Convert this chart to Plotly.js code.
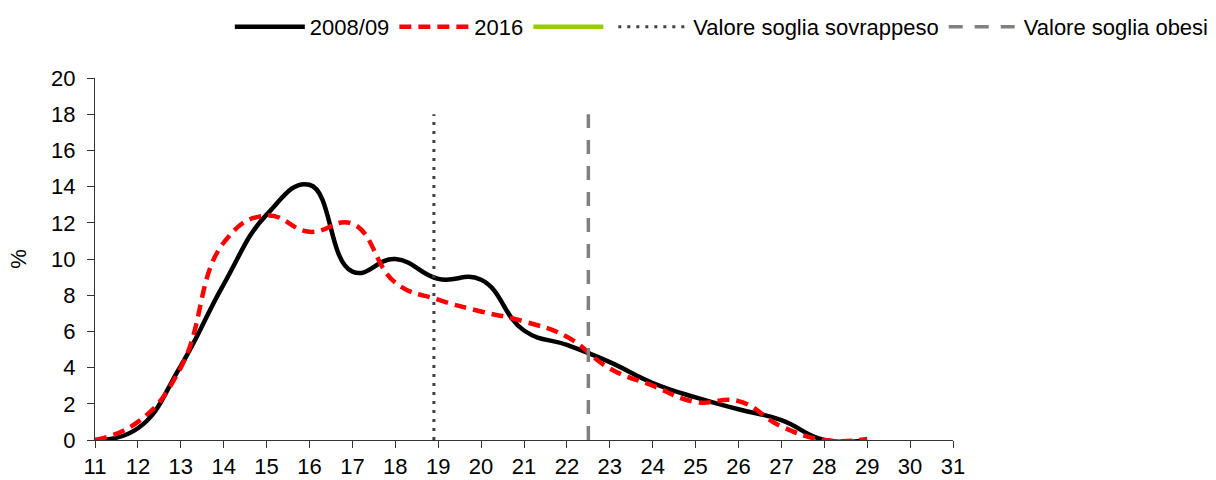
<!DOCTYPE html>
<html>
<head>
<meta charset="utf-8">
<script src="https://cdn.plot.ly/plotly-3.0.1.min.js"></script>
<style>html,body{margin:0;padding:0;background:#fff;}#chart{width:1216px;height:480px;}</style>
</head>
<body>
<div id="chart"></div>
<script>
// BMI values (x axis)
var bmi = [11, 12, 13, 14, 15, 16, 17, 18, 19, 20, 21, 22, 23, 24, 25, 26, 27, 28, 29];
// % distribution 2008/09
var y2008 = [0, 0.65, 4.1, 8.6, 12.45, 14.1, 9.3, 10.0, 8.9, 8.85, 6.05, 5.25, 4.3, 3.15, 2.35, 1.7, 1.1, 0.0, 0.0];
// % distribution 2016
var y2016 = [0, 1.0, 4.0, 10.9, 12.4, 11.5, 11.95, 8.7, 7.75, 7.1, 6.55, 5.7, 3.95, 3.0, 2.1, 2.15, 0.75, 0.0, 0.05];
// threshold lines
var sovrappesoX = [18.9, 18.9];
var obesiX = [22.5, 22.5];
var thresholdY = [0, 18];
var names = ["2008/09", "2016", "", "Valore soglia sovrappeso", "Valore soglia obesi"];

var font = {family: "Liberation Sans, Arial, sans-serif", size: 22, color: "#000"};

var traces = [
  {x: bmi, y: y2008, name: names[0], mode: "lines", line: {color: "#000", width: 4.5, shape: "spline", smoothing: 1.3}},
  {x: bmi, y: y2016, name: names[1], mode: "lines", line: {color: "#ff0000", width: 4.5, shape: "spline", smoothing: 1.3, dash: "12px,7px"}},
  {x: [null], y: [null], name: names[2], mode: "lines", line: {color: "#99cc00", width: 4.5}},
  {x: sovrappesoX, y: thresholdY, name: names[3], mode: "lines", line: {color: "#404040", width: 3, dash: "3px,6px"}},
  {x: obesiX, y: thresholdY, name: names[4], mode: "lines", line: {color: "#808080", width: 3.5, dash: "14px,12px"}}
];

var layout = {
  width: 1216, height: 480,
  margin: {l: 95, r: 263, t: 78, b: 40, autoexpand: false},
  paper_bgcolor: "#fff", plot_bgcolor: "#fff",
  font: font,
  showlegend: true,
  legend: {orientation: "h", x: 1.304, xanchor: "right", y: 1.141, yanchor: "middle",
           font: font, itemwidth: 70, bgcolor: "rgba(0,0,0,0)", tracegroupgap: 0},
  xaxis: {range: [11, 31], dtick: 1, tick0: 11, showgrid: false, zeroline: false,
          showline: true, linecolor: "#333", linewidth: 1,
          ticks: "outside", ticklen: 7, tickcolor: "#333", tickfont: font, automargin: false},
  yaxis: {range: [0, 20], dtick: 2, tick0: 0, showgrid: false, zeroline: false,
          showline: true, linecolor: "#333", linewidth: 1,
          ticks: "outside", ticklen: 7, tickcolor: "#333", tickfont: font, automargin: false,
          ticklabelstandoff: 7,
          title: {text: "%", font: font, standoff: 18}}
};

Plotly.newPlot("chart", traces, layout, {displayModeBar: false, staticPlot: true});
</script>
</body>
</html>
